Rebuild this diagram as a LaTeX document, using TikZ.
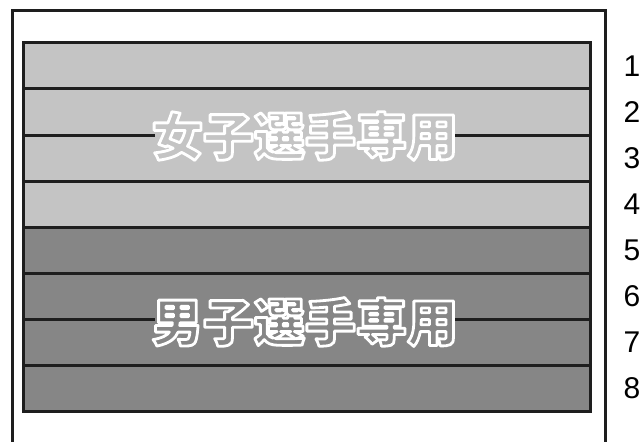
\documentclass[tikz,border=0pt]{standalone}
\usepackage{fontspec}
\setmainfont{Liberation Sans}
\newfontfamily\jpfont{Noto Sans CJK JP}
\usepackage{tikz}
\definecolor{lanelight}{RGB}{196,196,196}
\definecolor{lanedark}{RGB}{134,134,134}
\definecolor{framegray}{RGB}{30,30,30}
% fill and stroke the glyphs, white outline
\newcommand\outlined[1]{\special{pdf:literal direct 2 Tr 2.8 w 1 1 1 RG 1 j}#1\special{pdf:literal direct 0 Tr}}

\begin{document}
\begin{tikzpicture}[x=1pt, y=-1pt,
	lane/.style={draw=framegray, line width=3pt, minimum width=567, minimum height=46, inner sep=0},
	num/.style={font=\fontsize{30}{32}\selectfont, inner sep=0},
	title/.style={font=\jpfont\bfseries\fontsize{51}{53}\selectfont, inner sep=0, minimum height=20}
]
\useasboundingbox (0,0) rectangle (644,441);
%outer frame, open at the bottom
\draw[framegray, line width=3pt] (12,445) -- (12,11) -- (605,11) -- (605,445);
%lanes
\foreach \i in {1,...,8}{
	\ifnum\i<5 \def\lanecol{lanelight}\else\def\lanecol{lanedark}\fi
	\node[lane, fill=\lanecol] (lane\i) at (306.5,{43+46*(\i-0.5)}) {};
	\node[num] (n\i) at (632,{43+46*(\i-0.5)}) {\i};
}
%the lane line stops behind the text
\fill[lanelight] (155,132) rectangle (455,140);
\fill[lanedark] (155,318) rectangle (455,326);
\node[title, text=lanelight] (women) at (305,136) {\outlined{女子選手専用}};
\node[title, text=lanedark] (men) at (305,322) {\outlined{男子選手専用}};
\end{tikzpicture}
\end{document}
